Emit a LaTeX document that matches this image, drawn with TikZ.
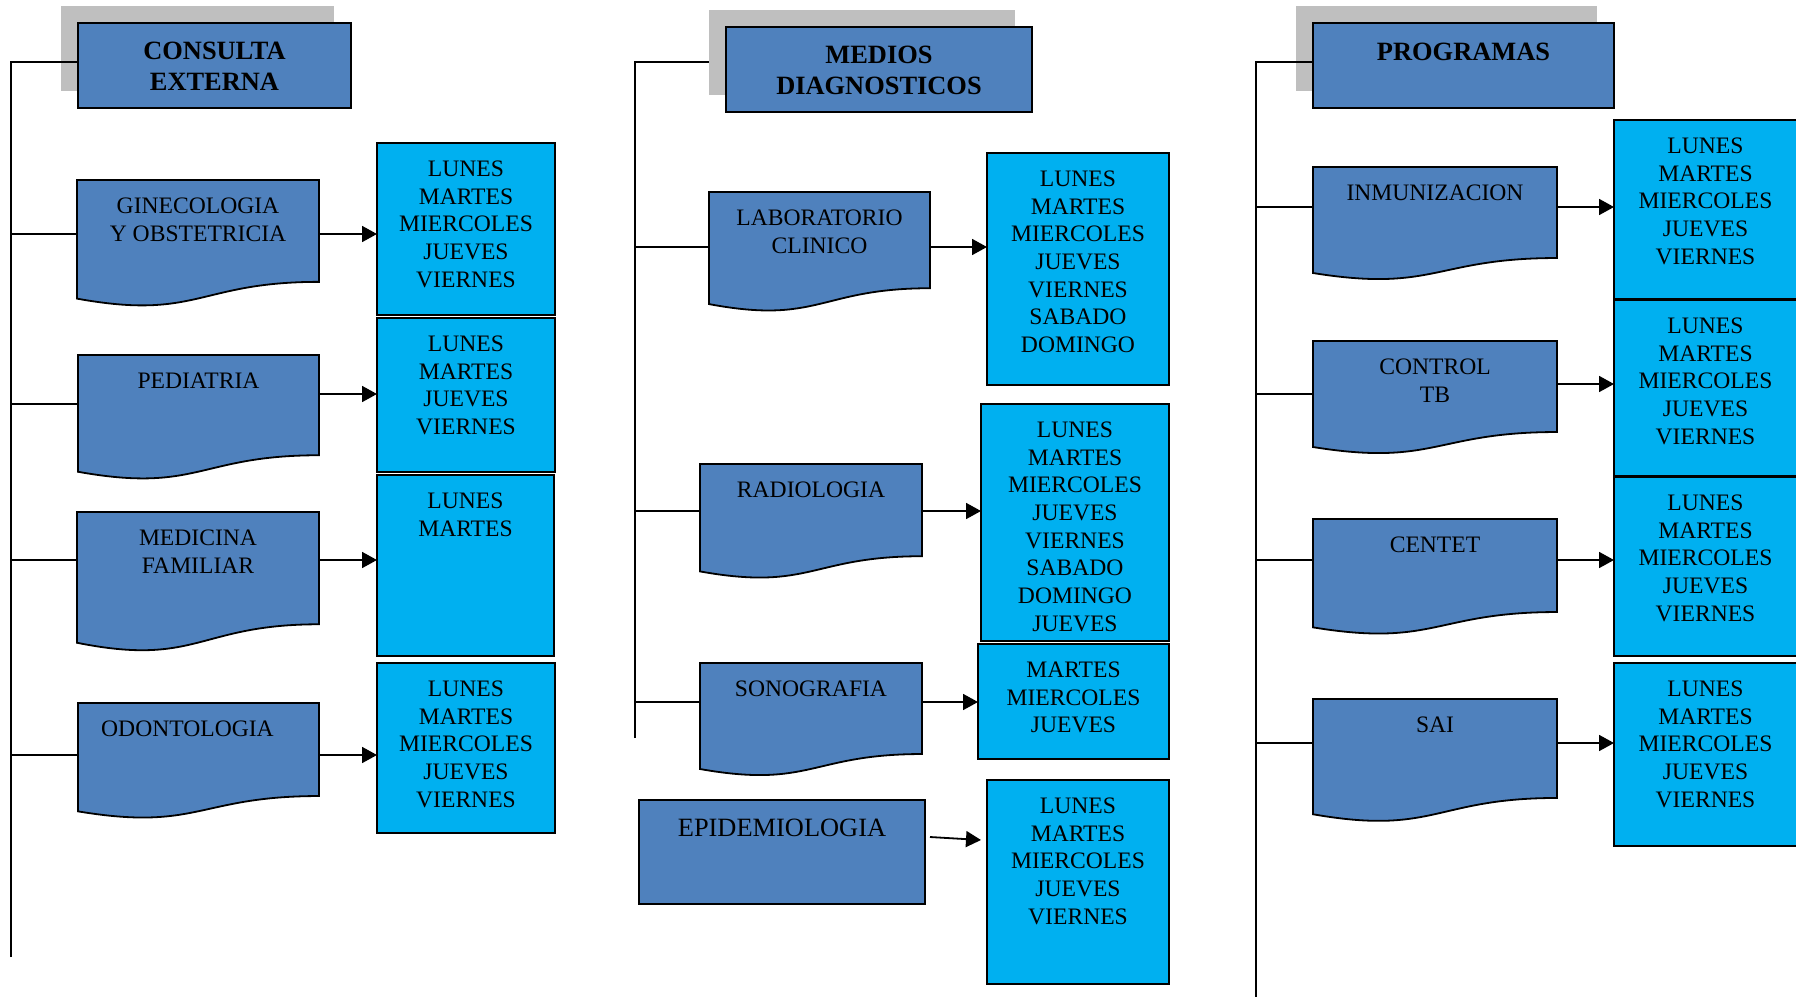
\documentclass[tikz,border=0pt]{standalone}
\usepackage{fontspec}
\setmainfont{Liberation Serif}
\usetikzlibrary{arrows.meta,calc}
\definecolor{dkblue}{HTML}{4F81BD}
\definecolor{ltblue}{HTML}{00B0F0}
\definecolor{shadowgray}{HTML}{BFBFBF}
\tikzset{
  conn/.style={line width=1.8pt},
  arr/.style={line width=1.8pt,-{Triangle[length=15pt,width=16pt]}},
  docfill/.style={fill=dkblue,draw=black,line width=1.8pt},
  daystyle/.style={fill=ltblue,draw=black,line width=2.2pt},
  hdbox/.style={fill=dkblue,draw=black,line width=2pt},
  shadowbox/.style={fill=shadowgray},
  bodytxt/.style={anchor=north,inner sep=0pt,align=center,font=\fontsize{23.6}{27.7}\selectfont},
  bigtxt/.style={anchor=north,inner sep=0pt,align=center,font=\fontsize{26.4}{31.7}\selectfont},
  headtxt/.style={anchor=north,inner sep=0pt,align=center,font=\fontsize{26.4}{31.7}\selectfont\bfseries},
  frame/.style={inner sep=0pt,outer sep=0pt,anchor=north west}
}
% name, x1, y1, x2, y2
\newcommand{\mkhead}[5]{%
  \node[shadowbox,frame,minimum width={#4-#2},minimum height={#5-#3}] (#1S) at ({#2-17},{#3-17}) {};
  \node[hdbox,frame,minimum width={#4-#2},minimum height={#5-#3}] (#1) at (#2,#3) {};
}
\newcommand{\mkday}[5]{%
  \node[daystyle,frame,minimum width={#4-#2},minimum height={#5-#3}] (#1) at (#2,#3) {};
}
% name, x1, x2, top, h
\newcommand{\mkdoc}[5]{%
  \node[frame,minimum width={#3-#2},minimum height={0.802*#5}] (#1) at (#2,#4) {};
  \path[docfill] (#1.north west) -- (#1.north east) -- (#1.south east)
    .. controls (#1.south) and ($(#1.south)+(0,{0.3055*#5})$) ..
    ($(#1.south west)+(0,{0.132*#5})$) -- cycle;
}
\begin{document}
\begin{tikzpicture}[x=1pt,y=-1pt]
\useasboundingbox (0,0) rectangle (1796,996);
\begin{scope}
\clip (0,0) rectangle (1796,996);

% ===== Column 1: CONSULTA EXTERNA =====
\mkhead{ce}{78}{23}{351}{108}
\node[headtxt] (ceT) at ($(ce.north)+(0,18.5)$) {CONSULTA\\EXTERNA};
\coordinate (ceTop) at (11,62);
\coordinate (ceBot) at (11,957);
\draw[conn] (ceBot) -- (ceTop) -- (ceTop -| ce.west);

\mkdoc{gine}{77}{319}{180}{127}
\node[bodytxt] (gineT) at ($(gine.north)+(0,17.5)$) {GINECOLOGIA\\Y OBSTETRICIA};
\mkday{d1}{377}{143}{555}{315}
\node[bodytxt] (d1T) at ($(d1.north)+(0,17.5)$) {LUNES\\MARTES\\MIERCOLES\\JUEVES\\VIERNES};
\coordinate (b1) at (11,234);
\draw[conn] (b1) -- (b1 -| gine.west);
\draw[arr] (gine.east |- b1) -- (d1.west |- b1);

\mkdoc{ped}{78}{319}{355}{125}
\node[bodytxt] (pedT) at ($(ped.north)+(0,17.5)$) {PEDIATRIA};
\mkday{d2}{377}{318}{555}{472}
\node[bodytxt] (d2T) at ($(d2.north)+(0,17.5)$) {LUNES\\MARTES\\JUEVES\\VIERNES};
\coordinate (b2) at (11,404);
\coordinate (a2) at (11,394);
\draw[conn] (b2) -- (b2 -| ped.west);
\draw[arr] (ped.east |- a2) -- (d2.west |- a2);

\mkdoc{med}{77}{319}{512}{140}
\node[bodytxt] (medT) at ($(med.north)+(0,17.5)$) {MEDICINA\\FAMILIAR};
\mkday{d3}{377}{475}{554}{656}
\node[bodytxt] (d3T) at ($(d3.north)+(0,17.5)$) {LUNES\\MARTES};
\coordinate (b3) at (11,560);
\draw[conn] (b3) -- (b3 -| med.west);
\draw[arr] (med.east |- b3) -- (d3.west |- b3);

\mkdoc{odo}{78}{319}{703}{116}
\node[bodytxt] (odoT) at ($(odo.north)+(-11,17.5)$) {ODONTOLOGIA};
\mkday{d4}{377}{663}{555}{833}
\node[bodytxt] (d4T) at ($(d4.north)+(0,17.5)$) {LUNES\\MARTES\\MIERCOLES\\JUEVES\\VIERNES};
\coordinate (b4) at (11,755);
\draw[conn] (b4) -- (b4 -| odo.west);
\draw[arr] (odo.east |- b4) -- (d4.west |- b4);

% ===== Column 2: MEDIOS DIAGNOSTICOS =====
\coordinate (mdTop) at (635,62);
\coordinate (mdBot) at (635,738);
\coordinate (mdEnd) at (714,62);
\draw[conn] (mdBot) -- (mdTop) -- (mdEnd);
\mkhead{md}{726}{27}{1032}{112}
\node[headtxt] (mdT) at ($(md.north)+(0,18.5)$) {MEDIOS\\DIAGNOSTICOS};

\mkdoc{lab}{709}{930}{192}{120}
\node[bodytxt] (labT) at ($(lab.north)+(0,17.5)$) {LABORATORIO\\CLINICO};
\mkday{dL}{987}{153}{1169}{385}
\node[bodytxt] (dLT) at ($(dL.north)+(0,17.5)$) {LUNES\\MARTES\\MIERCOLES\\JUEVES\\VIERNES\\SABADO\\DOMINGO};
\coordinate (b5) at (635,247);
\draw[conn] (b5) -- (b5 -| lab.west);
\draw[arr] (lab.east |- b5) -- (dL.west |- b5);

\mkdoc{rad}{700}{922}{464}{115}
\node[bodytxt] (radT) at ($(rad.north)+(0,17.5)$) {RADIOLOGIA};
\mkday{dR}{981}{404}{1169}{641}
\node[bodytxt] (dRT) at ($(dR.north)+(0,17.5)$) {LUNES\\MARTES\\MIERCOLES\\JUEVES\\VIERNES\\SABADO\\DOMINGO\\JUEVES};
\coordinate (b6) at (635,511);
\draw[conn] (b6) -- (b6 -| rad.west);
\draw[arr] (rad.east |- b6) -- (dR.west |- b6);

\mkdoc{son}{700}{922}{663}{113.5}
\node[bodytxt] (sonT) at ($(son.north)+(0,17.5)$) {SONOGRAFIA};
\mkday{dS}{978}{644}{1169}{759}
\node[bodytxt] (dST) at ($(dS.north)+(0,17.5)$) {MARTES\\MIERCOLES\\JUEVES};
\coordinate (b7) at (635,702);
\draw[conn] (b7) -- (b7 -| son.west);
\draw[arr] (son.east |- b7) -- (dS.west |- b7);

\node[hdbox,frame,minimum width={925-639},minimum height={904-800}] (epi) at (639,800) {};
\node[bigtxt] (epiT) at ($(epi.north)+(0,19)$) {EPIDEMIOLOGIA};
\mkday{dE}{987}{780}{1169}{984}
\node[bodytxt] (dET) at ($(dE.north)+(0,17.5)$) {LUNES\\MARTES\\MIERCOLES\\JUEVES\\VIERNES};
\draw[arr] ($(epi.east)+(5,-15)$) -- ($(dE.west)+(-6,-42)$);

% ===== Column 3: PROGRAMAS =====
\mkhead{pg}{1313}{23}{1614}{108}
\node[headtxt] (pgT) at ($(pg.north)+(0,19.5)$) {PROGRAMAS};
\coordinate (pgTop) at (1256,62);
\coordinate (pgBot) at (1256,1000);
\draw[conn] (pgBot) -- (pgTop) -- (pgTop -| pg.west);

\mkdoc{inm}{1313}{1557}{167}{113.5}
\node[bodytxt] (inmT) at ($(inm.north)+(0,17.5)$) {INMUNIZACION};
\mkday{p1}{1614}{120}{1797}{299}
\node[bodytxt] (p1T) at ($(p1.north)+(0,17.5)$) {LUNES\\MARTES\\MIERCOLES\\JUEVES\\VIERNES};
\coordinate (b8) at (1256,207);
\draw[conn] (b8) -- (b8 -| inm.west);
\draw[arr] (inm.east |- b8) -- (p1.west |- b8);

\mkdoc{ctl}{1313}{1557}{341}{113.5}
\node[bodytxt] (ctlT) at ($(ctl.north)+(0,17.5)$) {CONTROL\\TB};
\mkday{p2}{1614}{300}{1797}{476}
\node[bodytxt] (p2T) at ($(p2.north)+(0,17.5)$) {LUNES\\MARTES\\MIERCOLES\\JUEVES\\VIERNES};
\coordinate (b9) at (1256,394);
\coordinate (a9) at (1256,384);
\draw[conn] (b9) -- (b9 -| ctl.west);
\draw[arr] (ctl.east |- a9) -- (p2.west |- a9);

\mkdoc{cen}{1313}{1557}{519}{116}
\node[bodytxt] (cenT) at ($(cen.north)+(0,17.5)$) {CENTET};
\mkday{p3}{1614}{477}{1797}{656}
\node[bodytxt] (p3T) at ($(p3.north)+(0,17.5)$) {LUNES\\MARTES\\MIERCOLES\\JUEVES\\VIERNES};
\coordinate (b10) at (1256,560);
\draw[conn] (b10) -- (b10 -| cen.west);
\draw[arr] (cen.east |- b10) -- (p3.west |- b10);

\mkdoc{sai}{1313}{1557}{699}{123.4}
\node[bodytxt] (saiT) at ($(sai.north)+(0,17.5)$) {SAI};
\mkday{p4}{1614}{663}{1797}{846}
\node[bodytxt] (p4T) at ($(p4.north)+(0,17.5)$) {LUNES\\MARTES\\MIERCOLES\\JUEVES\\VIERNES};
\coordinate (b11) at (1256,743);
\draw[conn] (b11) -- (b11 -| sai.west);
\draw[arr] (sai.east |- b11) -- (p4.west |- b11);

\end{scope}
\end{tikzpicture}
\end{document}
